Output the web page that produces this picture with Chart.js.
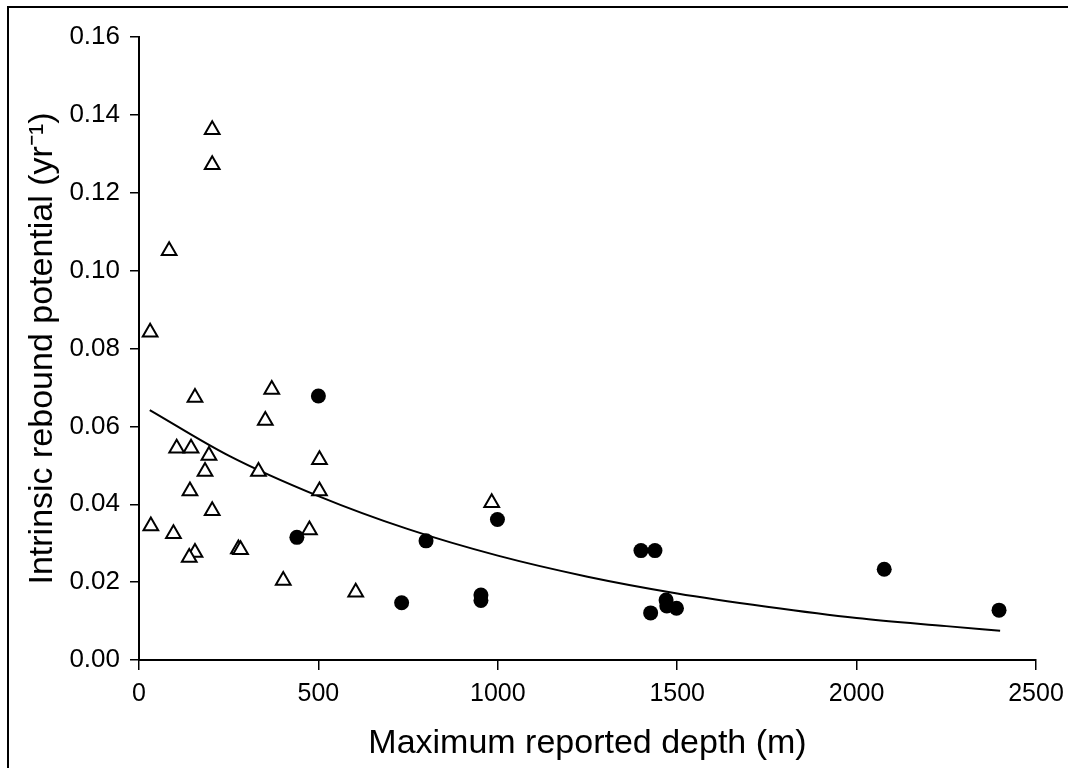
<!DOCTYPE html>
<html>
<head>
<meta charset="utf-8">
<script src="https://cdn.jsdelivr.net/npm/chart.js@4"></script>
<style>
  html, body { margin: 0; padding: 0; background: #fff; }
  #wrap { width: 1068px; height: 768px; }
</style>
</head>
<body>
<div id="wrap"><canvas id="chart"></canvas></div>
<script>
// open triangles
const triDepth = [31, 84, 204, 204, 156, 370, 352, 105, 145, 195, 184, 333, 503, 503, 142, 204, 33, 96, 156, 140, 277, 283, 475, 402, 604, 983];
const triRate  = [0.0842, 0.1051, 0.1362, 0.1272, 0.0674, 0.0695, 0.0615, 0.0544, 0.0544, 0.0525, 0.0484, 0.0484, 0.0514, 0.0434, 0.0434, 0.0383, 0.0344, 0.0324, 0.0276, 0.0263, 0.0285, 0.0283, 0.0334, 0.0204, 0.0174, 0.0404];

// filled circles
const circDepth = [500, 440, 999, 800, 732, 953, 953, 1399, 1438, 1469, 1471, 1498, 1426, 2077, 2397];
const circRate  = [0.0678, 0.0315, 0.0361, 0.0306, 0.0147, 0.0167, 0.0153, 0.0281, 0.0281, 0.0154, 0.0139, 0.0133, 0.0121, 0.0233, 0.0128];

// fitted curve
const fitDepth = [30, 250, 500, 750, 1000, 1250, 1500, 1750, 2000, 2250, 2400];
const fitRate  = [0.0642, 0.0525, 0.0421, 0.0336, 0.0268, 0.0214, 0.0171, 0.0137, 0.0108, 0.0087, 0.0075];

const xTicks = [0, 500, 1000, 1500, 2000, 2500];
const yTicks = [0, 0.02, 0.04, 0.06, 0.08, 0.10, 0.12, 0.14, 0.16];

const toPoints = (xs, ys) => xs.map((x, i) => ({ x: x, y: ys[i] }));

// frame round the whole figure
const framePlugin = {
  id: 'frame',
  afterDraw(chart) {
    const ctx = chart.ctx;
    ctx.save();
    ctx.strokeStyle = '#000';
    ctx.lineWidth = 2;
    ctx.strokeRect(8, 7, 1200, 900);
    ctx.restore();
  }
};

const fontFam = '"Liberation Sans", Arial, sans-serif';

new Chart(document.getElementById('chart').getContext('2d'), {
  type: 'scatter',
  data: {
    datasets: [
      {
        label: 'fit',
        type: 'line',
        data: toPoints(fitDepth, fitRate),
        borderColor: '#000',
        borderWidth: 2,
        pointRadius: 0,
        fill: false,
        cubicInterpolationMode: 'monotone',
        order: 3
      },
      {
        label: 'triangles',
        data: toPoints(triDepth, triRate),
        pointStyle: 'triangle',
        pointRadius: 8.5,
        backgroundColor: '#fff',
        borderColor: '#000',
        borderWidth: 2,
        order: 2
      },
      {
        label: 'circles',
        data: toPoints(circDepth, circRate),
        pointStyle: 'circle',
        pointRadius: 7.5,
        backgroundColor: '#000',
        borderColor: '#000',
        borderWidth: 0,
        order: 1
      }
    ]
  },
  options: {
    responsive: true,
    maintainAspectRatio: false,
    animation: false,
    layout: { padding: { left: 0, top: 37, right: 32, bottom: 0 } },
    plugins: {
      legend: { display: false },
      tooltip: { enabled: false }
    },
    scales: {
      x: {
        type: 'linear',
        min: 0,
        max: 2500,
        afterFit: s => { s.height = 108; s.paddingRight = 0; s.paddingLeft = 0; },
        afterBuildTicks: s => { s.ticks = xTicks.map(v => ({ value: v })); },
        grid: { drawOnChartArea: false, tickLength: 10, color: '#000', lineWidth: 1.5 },
        border: { color: '#000', width: 2 },
        ticks: {
          color: '#000',
          padding: 9,
          font: { family: fontFam, size: 25 },
          callback: v => String(v)
        },
        title: {
          display: true,
          text: 'Maximum reported depth (m)',
          color: '#000',
          font: { family: fontFam, size: 34 },
          padding: { top: 0, bottom: 4 }
        }
      },
      y: {
        type: 'linear',
        min: 0,
        max: 0.16,
        afterFit: s => { s.width = 139; },
        afterBuildTicks: s => { s.ticks = yTicks.map(v => ({ value: v })); },
        grid: { drawOnChartArea: false, tickLength: 9, color: '#000', lineWidth: 1.5 },
        border: { color: '#000', width: 2 },
        ticks: {
          color: '#000',
          padding: 10,
          font: { family: fontFam, size: 26 },
          callback: v => v.toFixed(2)
        },
        title: {
          display: true,
          text: 'Intrinsic rebound potential (yr\u207B\u00B9)',
          color: '#000',
          font: { family: fontFam, size: 34 },
          padding: { top: 22, bottom: 0 }
        }
      }
    }
  },
  plugins: [framePlugin]
});
</script>
</body>
</html>
